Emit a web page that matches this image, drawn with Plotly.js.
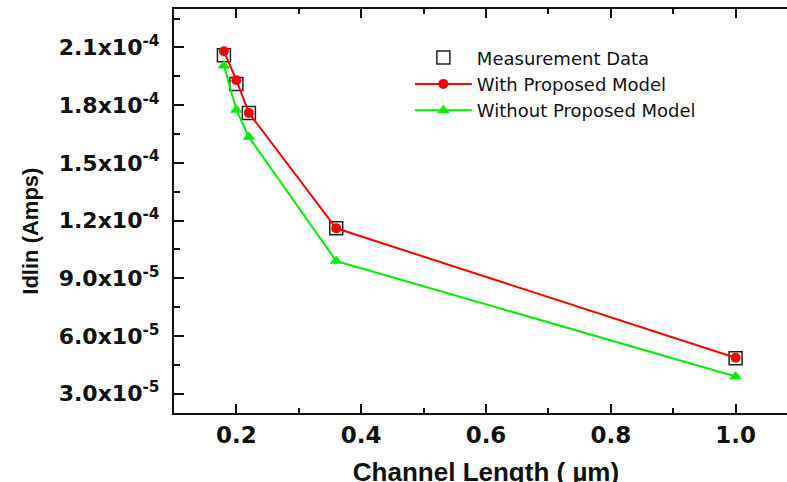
<!DOCTYPE html>
<html>
<head>
<meta charset="utf-8">
<script src="https://cdn.plot.ly/plotly-3.0.1.min.js"></script>
<style>
html,body{margin:0;padding:0;overflow:hidden;background:#fff;}
#chart{width:798px;height:496px;}
</style>
</head>
<body>
<div id="chart"></div>
<script>
// Channel length (um)
var channelLength = [0.18, 0.20, 0.22, 0.36, 1.0];
// Idlin (A)
var measurementData = [2.06e-4, 1.91e-4, 1.76e-4, 1.16e-4, 4.85e-5];
var withProposedModel = [2.08e-4, 1.93e-4, 1.76e-4, 1.16e-4, 4.87e-5];
var withoutProposedModel = [2.005e-4, 1.775e-4, 1.635e-4, 9.9e-5, 3.9e-5];

var seriesNames = ['Measurement Data', 'With Proposed Model', 'Without Proposed Model'];

var yTickVals = [3.0e-5, 6.0e-5, 9.0e-5, 1.2e-4, 1.5e-4, 1.8e-4, 2.1e-4];
var yTickText = ['3.0x10<sup>-5</sup>', '6.0x10<sup>-5</sup>', '9.0x10<sup>-5</sup>',
                 '1.2x10<sup>-4</sup>', '1.5x10<sup>-4</sup>', '1.8x10<sup>-4</sup>', '2.1x10<sup>-4</sup>'];
var xTickVals = [0.2, 0.4, 0.6, 0.8, 1.0];
var xTickText = ['0.2', '0.4', '0.6', '0.8', '1.0'];

var traces = [
  {
    x: channelLength, y: measurementData, name: seriesNames[0],
    type: 'scatter', mode: 'markers',
    marker: {symbol: 'square-open', size: 13, color: '#222', line: {width: 1.5, color: '#222'}}
  },
  {
    x: channelLength, y: withProposedModel, name: seriesNames[1],
    type: 'scatter', mode: 'lines+markers',
    line: {color: '#ff0000', width: 2},
    marker: {symbol: 'circle', size: 10, color: '#ff0000'}
  },
  {
    x: channelLength, y: withoutProposedModel, name: seriesNames[2],
    type: 'scatter', mode: 'lines+markers',
    line: {color: '#00ee00', width: 2},
    marker: {symbol: 'triangle-up', size: 11, color: '#00ee00'}
  }
];

var layout = {
  width: 798, height: 496,
  margin: {l: 174, r: 0, t: 9, b: 83},
  paper_bgcolor: '#fff', plot_bgcolor: '#fff',
  showlegend: true,
  legend: {
    x: 0.378, y: 0.925, xanchor: 'left', yanchor: 'top',
    bgcolor: 'rgba(0,0,0,0)', borderwidth: 0,
    font: {family: 'DejaVu Sans', size: 18, color: '#111'},
    itemwidth: 57, tracegroupgap: 0
  },
  xaxis: {
    range: [0.1, 1.1],
    tickmode: 'array', tickvals: xTickVals, ticktext: xTickText,
    ticks: 'inside', ticklen: 9, tickwidth: 2, tickcolor: '#111',
    showline: true, linewidth: 2, linecolor: '#111', mirror: 'ticks',
    showgrid: false, zeroline: false,
    tickfont: {family: 'DejaVu Sans', size: 23, color: '#111', weight: 'bold'},
    minor: {tickmode: 'array', tickvals: [0.3, 0.5, 0.7, 0.9], ticks: 'inside', ticklen: 5, tickwidth: 2, tickcolor: '#111', showgrid: false},
    title: {text: '<b>Channel Length ( µm)</b>', font: {family: 'Liberation Sans', size: 26, color: '#111'}, standoff: 16}
  },
  yaxis: {
    range: [2.0e-5, 2.3e-4],
    tickmode: 'array', tickvals: yTickVals, ticktext: yTickText,
    ticks: 'inside', ticklen: 10, tickwidth: 2, tickcolor: '#111',
    showline: true, linewidth: 2, linecolor: '#111', mirror: 'ticks',
    showgrid: false, zeroline: false, ticklabelstandoff: 8,
    tickfont: {family: 'DejaVu Sans', size: 22, color: '#111', weight: 'bold'},
    minor: {tickmode: 'array', tickvals: [4.5e-5, 7.5e-5, 1.05e-4, 1.35e-4, 1.65e-4, 1.95e-4, 2.25e-4], ticks: 'inside', ticklen: 6, tickwidth: 2, tickcolor: '#111', showgrid: false}
  },
  annotations: [{
    text: '<b>Idlin (Amps)</b>', textangle: -90,
    xref: 'paper', yref: 'paper', x: -0.23, y: 0.45,
    xanchor: 'center', yanchor: 'middle', showarrow: false,
    font: {family: 'Liberation Sans', size: 22, color: '#111'}
  }]
};

Plotly.newPlot('chart', traces, layout, {displayModeBar: false, staticPlot: true});
</script>
</body>
</html>
